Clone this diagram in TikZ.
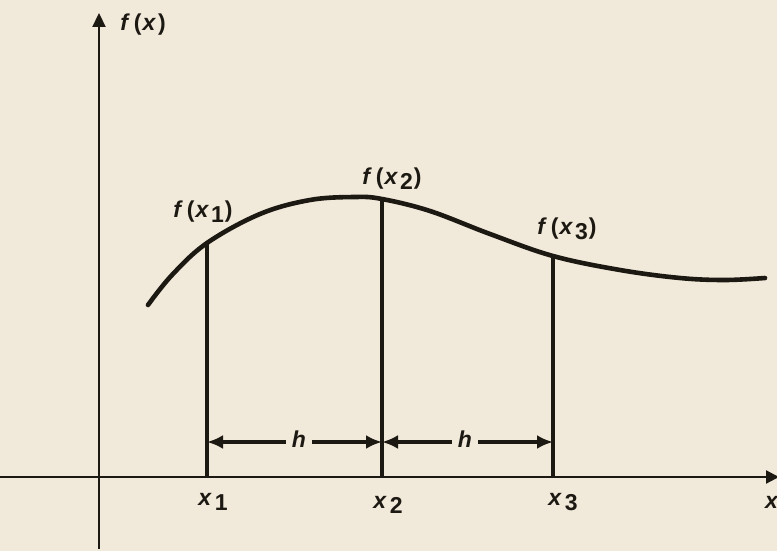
\documentclass[tikz,border=0pt]{standalone}
\usepackage{fontspec}
\setmainfont{Liberation Sans}
\usetikzlibrary{arrows.meta}
\definecolor{bg}{HTML}{F1E9DA}
\definecolor{ink}{HTML}{1C1812}
\newcommand{\sbx}[1]{\raisebox{-0.4ex}{#1}}
\begin{document}
\begin{tikzpicture}[x=1pt,y=-1pt,
  lbl/.style={font=\bfseries\fontsize{23}{28}\selectfont, text=ink, inner sep=1pt},
  axis/.style={draw=ink, line width=2.2pt},
  curve/.style={draw=ink, line width=4.6pt, line cap=round},
  ord/.style={draw=ink, line width=3.8pt},
  dim/.style={draw=ink, line width=3.2pt, {Latex[length=16pt,width=14pt]}-{Latex[length=16pt,width=14pt]}}]
\fill[bg] (0,0) rectangle (777,551);
\useasboundingbox (0,0) rectangle (777,551);
% axes
\coordinate (ybot) at (99,549);
\coordinate (ytop) at (99,13);
\coordinate (xl) at (0,477);
\coordinate (xr) at (779,477);
\draw[axis, -{Triangle[length=14pt,width=13pt]}] (ybot) -- (ytop);
\draw[axis, -{Triangle[length=13pt,width=13pt]}] (xl) -- (xr);
\node[lbl] (fx) at (143,25) {\textit{f}\kern4pt(\kern1pt\textit{x}\kern2pt)};
\node[lbl, anchor=west] (xlab) at (764,502) {\textit{x}};
% curve
\coordinate (c1) at (207,243);
\coordinate (c2) at (382,199);
\coordinate (c3) at (553,256);
\draw[curve] plot[smooth, tension=0.6] coordinates {(148,305) (172,275) (207,243) (260,214) (310,200) (355,197) (382,199) (430,211) (490,234) (553,256) (620,270) (680,278) (725,280) (765,278)};
% ordinates
\coordinate (a1) at (207,477);
\coordinate (a2) at (382,477);
\coordinate (a3) at (553,477);
\draw[ord] (c1) -- (a1);
\draw[ord] (c2) -- (a2);
\draw[ord] (c3) -- (a3);
% h dimensions
\coordinate (h1) at (207,442);
\coordinate (h2) at (382,442);
\coordinate (h3) at (553,442);
\draw[dim] (h1) -- (h2);
\draw[dim] (h2) -- (h3);
\node[lbl, fill=bg, inner xsep=6pt, inner ysep=4pt] (hA) at (299,439) {\textit{h}};
\node[lbl, fill=bg, inner xsep=6pt, inner ysep=4pt] (hB) at (465,439) {\textit{h}};
% labels
\node[lbl] (lx1) at (213,502) {\textit{x}\kern3pt\sbx{1}};
\node[lbl] (lx2) at (388,505) {\textit{x}\kern3pt\sbx{2}};
\node[lbl] (lx3) at (563,502) {\textit{x}\kern3pt\sbx{3}};
\node[lbl] (fx1) at (203,212) {\textit{f}\kern4pt(\kern1pt\textit{x}\kern2pt\sbx{1}\kern1pt)};
\node[lbl] (fx2) at (392,179) {\textit{f}\kern4pt(\kern1pt\textit{x}\kern2pt\sbx{2}\kern1pt)};
\node[lbl] (fx3) at (567,229) {\textit{f}\kern4pt(\kern1pt\textit{x}\kern2pt\sbx{3}\kern1pt)};
\end{tikzpicture}
\end{document}
